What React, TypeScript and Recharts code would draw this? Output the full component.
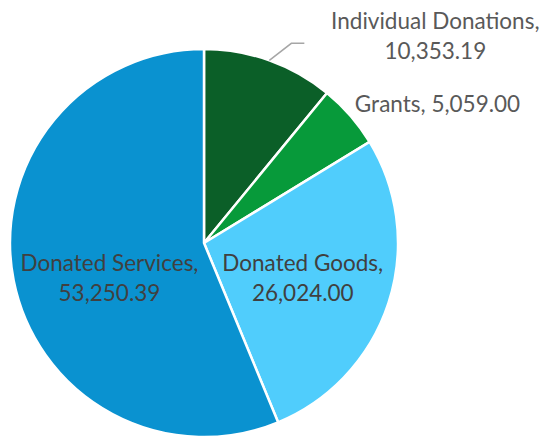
import { PieChart, Pie, Cell } from "recharts";

const categories = ["Individual Donations", "Grants", "Donated Goods", "Donated Services"];
const values = [10353.19, 5059.0, 26024.0, 53250.39];
const colors = ["#0b5f28", "#079a3a", "#50cdfc", "#0a92d0"];

// label placement relative to the slice: radius factor and angle shift (deg)
const labelLayout = [
  { r: 1.6, shift: -28.5, fill: "#595959", leader: true },
  { r: 1.4, shift: -10.3, fill: "#595959", leader: false },
  { r: 0.54, shift: -1.4, fill: "#404040", leader: false },
  { r: 0.52, shift: 9.2, fill: "#404040", leader: false },
];

const data = categories.map((name, i) => ({ name, value: values[i] }));

const fmt = (v: number) =>
  v.toLocaleString("en-US", { minimumFractionDigits: 2, maximumFractionDigits: 2 });

const RAD = Math.PI / 180;

function renderLabel(props: any) {
  const { cx, cy, midAngle, outerRadius, index, name, value } = props;
  const lay = labelLayout[index];
  const a = (midAngle + lay.shift) * RAD;
  const x = cx + outerRadius * lay.r * Math.cos(a);
  const y = cy - outerRadius * lay.r * Math.sin(a);
  const font = { fontFamily: "Lato, 'Open Sans', sans-serif", fontSize: 22.5 };
  const twoLines = index !== 1;
  let leader = null;
  if (lay.leader) {
    const sx = cx + outerRadius * Math.cos(midAngle * RAD);
    const sy = cy - outerRadius * Math.sin(midAngle * RAD);
    leader = (
      <polyline
        points={`${sx},${sy} ${sx + 22},${sy - 17} ${sx + 35},${sy - 17}`}
        fill="none"
        stroke="#a6a6a6"
        strokeWidth={1.5}
      />
    );
  }
  return (
    <g>
      {leader}
      {twoLines ? (
        <text x={x} y={y} textAnchor="middle" fill={lay.fill} style={font}>
          <tspan x={x} dy={-7}>{`${name},`}</tspan>
          <tspan x={x} dy={30}>{fmt(value)}</tspan>
        </text>
      ) : (
        <text x={x} y={y} dy={8} textAnchor="middle" fill={lay.fill} style={font}>
          {`${name}, ${fmt(value)}`}
        </text>
      )}
    </g>
  );
}

export default function App() {
  return (
    <div style={{ position: "absolute", left: 0, top: 0, width: 540, height: 440, background: "#fff" }}>
      <PieChart width={540} height={440} margin={{ top: 0, right: 0, bottom: 0, left: 0 }}>
        <Pie
          data={data}
          dataKey="value"
          nameKey="name"
          cx={204}
          cy={243}
          outerRadius={194}
          startAngle={90}
          endAngle={-270}
          stroke="#ffffff"
          strokeWidth={2.5}
          labelLine={false}
          label={renderLabel}
          isAnimationActive={false}
        >
          {data.map((d, i) => (
            <Cell key={d.name} fill={colors[i]} />
          ))}
        </Pie>
      </PieChart>
    </div>
  );
}
